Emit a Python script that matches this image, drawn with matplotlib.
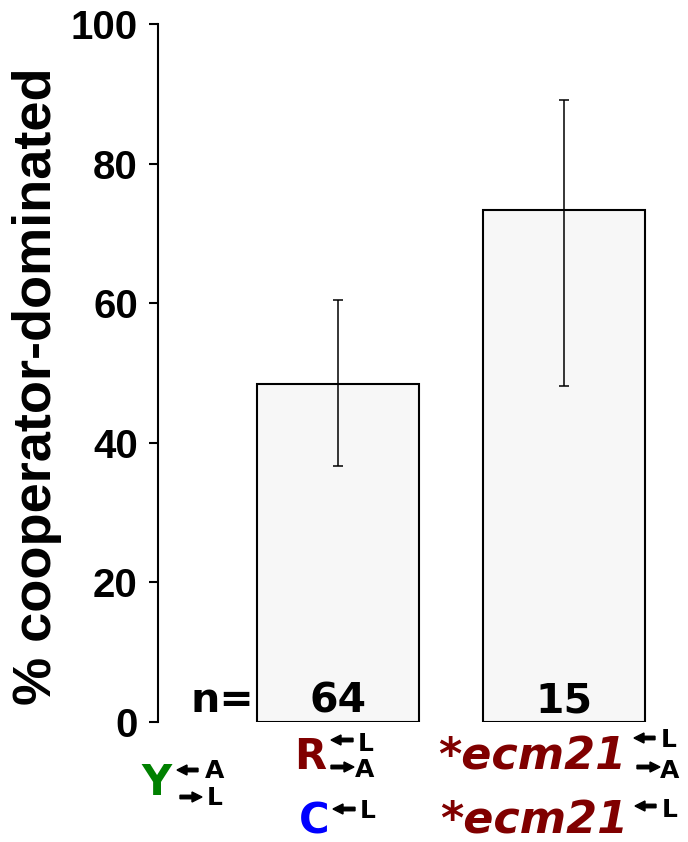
import numpy as np
import matplotlib.pyplot as plt
import matplotlib.transforms as mtransforms
from matplotlib.patches import FancyArrow

# data
groups = ["R+C", "ecm21"]
n_counts = [64, 15]
pct = [48.4, 73.3]
err_lo = [36.7, 48.1]
err_hi = [60.5, 89.1]
yticks = [0, 20, 40, 60, 80, 100]

W, H = 688, 842
darkred = "#800000"
green = "#008000"
blue = "#0000FF"

fig = plt.figure(figsize=(W / 100, H / 100), dpi=100)
# pixel coords with origin at top-left, for the label decorations
pix = mtransforms.Affine2D().scale(1, -1).translate(0, H)

# axes spans pixel x 158..660, y 24 (100) .. 722 (0)
x0, x1 = 1 - 180 / 226, 2 + 96 / 226
ax = fig.add_axes([158 / W, (H - 722) / H, (660 - 158) / W, (722 - 24) / H])
ax.set_xlim(x0, x1)
ax.set_ylim(0, 100)

xs = np.arange(1, len(pct) + 1)
ax.bar(xs, pct, width=162 / 226, color="#F7F7F7", edgecolor="black", linewidth=1.5, zorder=2)
lo = np.array(pct) - np.array(err_lo)
hi = np.array(err_hi) - np.array(pct)
ax.errorbar(xs, pct, yerr=[lo, hi], fmt="none", ecolor="black", elinewidth=1.1,
            capsize=3.5, capthick=1.1, zorder=3)

for s in ["top", "right", "bottom"]:
    ax.spines[s].set_visible(False)
ax.spines["left"].set_linewidth(1.5)
ax.set_xticks([])
ax.set_yticks(yticks)
ax.set_yticklabels([str(t) for t in yticks], fontsize=29, fontweight="bold",
                   family="Liberation Sans")
ax.tick_params(axis="y", length=6.5, width=1.5, pad=8)

# counts
for x, n in zip(xs, n_counts):
    ax.text(x, 1.4, str(n), ha="center", va="baseline", fontsize=29.5,
            fontweight="bold", family="DejaVu Sans", zorder=4)
fig.text(191 / W, 1 - 712 / H, "n=", ha="left", va="baseline", fontsize=29.5,
         fontweight="bold", family="DejaVu Sans")

# y label
fig.text(37 / W, 1 - 386 / H, "% cooperator-dominated", rotation=90, ha="center",
         va="center", fontsize=39, fontweight="bold", family="Liberation Sans")


def t(x, y, s, size, color="black", style="normal"):
    fig.text(x / W, 1 - y / H, s, ha="left", va="baseline", fontsize=size,
             fontweight="bold", fontstyle=style, color=color, family="DejaVu Sans")


def arrow(xa, xb, y):
    # arrow from xa to xb (pixels), head at xb
    fig.patches.append(FancyArrow(xa, y, xb - xa, 0, width=3.5, head_width=10,
                                  head_length=10, length_includes_head=True,
                                  color="black", transform=pix, figure=fig))


big, small = 30, 18
# Y (cooperator)
t(141, 795, "Y", big, green)
arrow(198, 177, 770)
t(205, 778, "A", small)
arrow(180, 202, 797)
t(207, 805, "L", small)
# R / C
t(294, 769, "R", big, darkred)
arrow(353, 331, 740)
t(358, 751, "L", small)
arrow(331, 354, 767)
t(355, 777, "A", small)
t(299, 834, "C", big, blue)
arrow(355, 333, 809)
t(360, 818, "L", small)
# ecm21
t(438, 770, "*ecm21", 32, darkred, "italic")
arrow(655, 634, 738)
t(661, 747, "L", small)
arrow(637, 660, 767)
t(660, 778, "A", small)
t(440, 834, "*ecm21", 32, darkred, "italic")
arrow(656, 635, 806)
t(662, 817, "L", small)

fig.savefig("out.png", dpi=100)
